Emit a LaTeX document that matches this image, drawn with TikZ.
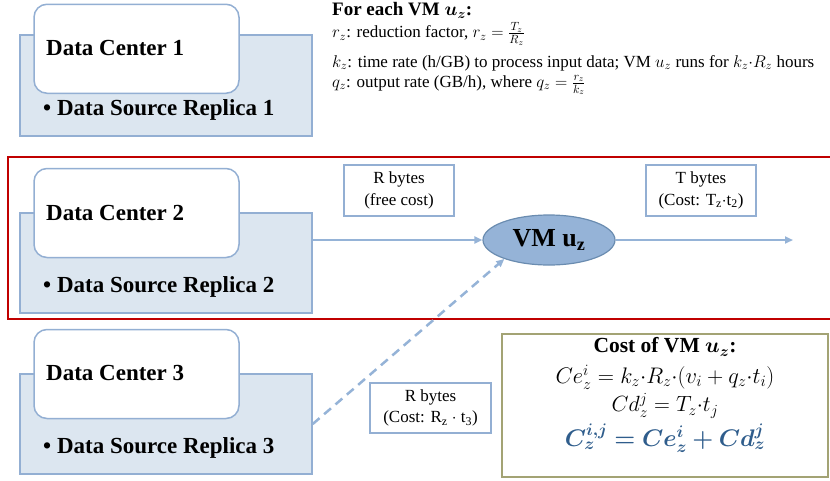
\RequirePackage{fix-cm}
\documentclass[tikz,border=0pt]{standalone}
\usepackage{amsmath}
\usepackage{fontspec}
\setmainfont{Liberation Serif}
\usepackage{bm}
\usetikzlibrary{shapes.geometric,arrows.meta}
\definecolor{backfill}{HTML}{DCE6F0}
\definecolor{boxline}{HTML}{93AFD3}
\definecolor{ellfill}{HTML}{95B3D7}
\definecolor{ellline}{HTML}{6A8CB0}
\definecolor{redline}{HTML}{C00000}
\definecolor{oliveline}{HTML}{A3A374}
\definecolor{formblue}{HTML}{2F5D8C}
\newdimen\fsd
\newcommand{\fs}[1]{\fsd=#1pt \fsd=1.25\fsd \fontsize{#1}{\the\fsd}\selectfont}
\tikzset{
  backbox/.style={draw=boxline, fill=backfill, line width=1.5pt, minimum width=292pt, minimum height=100pt, inner sep=0pt},
  frontbox/.style={draw=boxline, fill=white, line width=1.5pt, rounded corners=13pt, minimum width=205pt, minimum height=89pt, inner sep=0pt},
  dctext/.style={anchor=west, font=\fs{23}\bfseries, inner sep=0pt},
  labbox/.style={draw=boxline, fill=white, line width=1.3pt, align=center, font=\fs{17}, inner sep=0pt, minimum height=51pt},
  flow/.style={draw=ellfill, line width=2pt, -{Triangle[length=8pt,width=7pt]}},
  toptext/.style={anchor=west, font=\fs{17}, inner sep=0pt},
}
\begin{document}
\begin{tikzpicture}[x=1pt,y=-1pt]
\useasboundingbox (0,0) rectangle (830,480);
% red frame
\draw[redline, line width=1.5pt] (8,157) rectangle (840,319);
% group 1
\node[backbox, minimum height=101pt] (back1) at (166,85.5) {};
\node[frontbox] (front1) at (136.5,48.75) {};
\node[dctext] (dc1) at (46,48) {Data Center 1};
\node[dctext] (rep1) at (43,110) {\textbullet\ Data Source Replica 1};
% group 2
\node[backbox] (back2) at (166,263) {};
\node[frontbox] (front2) at (136.5,213) {};
\node[dctext] (dc2) at (46,213) {Data Center 2};
\node[dctext] (rep2) at (43,287) {\textbullet\ Data Source Replica 2};
% group 3
\node[backbox] (back3) at (166,424) {};
\node[frontbox] (front3) at (136.5,374) {};
\node[dctext] (dc3) at (46,373) {Data Center 3};
\node[dctext] (rep3) at (43,448) {\textbullet\ Data Source Replica 3};
% VM ellipse
\node[ellipse, draw=ellline, fill=ellfill, line width=1.2pt, minimum width=132pt, minimum height=50pt, inner sep=0pt, font=\fs{26}\bfseries] (ell) at (549,240) {VM u\textsubscript{z}};
\coordinate (outend) at (793,240);
\draw[flow] (back2.east |- ell.west) -- (ell.west);
\draw[flow] (ell.east) -- (outend);
\draw[flow, dash pattern=on 9pt off 6pt, line width=2.5pt] (back3.east) -- (ell.203);
% labels
\node[labbox, minimum width=110pt] (lab1) at (399,190.5) {R bytes\\(free cost)};
\node[labbox, minimum width=110pt] (lab2) at (701,190.5) {T bytes\\(Cost: T\textsubscript{z}$\cdot$t\textsubscript{2})};
\node[labbox, minimum width=121pt, minimum height=50pt] (lab3) at (430.5,408) {R bytes\\(Cost: R\textsubscript{z} $\cdot$ t\textsubscript{3})};
% top text
\node[toptext, font=\fs{19}\bfseries] (t1) at (332,10) {For each VM $\bm{u_z}$:};
\node[toptext] (t2) at (332,34) {$r_z$: reduction factor, $r_z=\frac{T_z}{R_z}$};
\node[toptext] (t3) at (332,63) {$k_z$: time rate (h/GB) to process input data; VM $u_z$ runs for $k_z{\cdot}R_z$ hours};
\node[toptext] (t4) at (332,85) {$q_z$: output rate (GB/h), where $q_z=\frac{r_z}{k_z}$};
% cost box
\node[draw=oliveline, line width=2pt, minimum width=326pt, minimum height=143pt, inner sep=0pt] (cost) at (665,405.5) {};
\node[font=\fs{21.5}\bfseries, inner sep=0pt] (c1) at (665,347) {Cost of VM $\bm{u_z}$:};
\node[font=\fs{22.5}, inner sep=0pt] (c2) at (665,377) {$Ce_z^i = k_z{\cdot}R_z{\cdot}(v_i + q_z{\cdot}t_i)$};
\node[font=\fs{22}, inner sep=0pt] (c3) at (665,406) {$Cd_z^j = T_z{\cdot}t_j$};
\node[font=\fs{24}, text=formblue, inner sep=0pt] (c4) at (665,438) {$\bm{C_z^{i,j} = Ce_z^i + Cd_z^j}$};
\end{tikzpicture}
\end{document}
